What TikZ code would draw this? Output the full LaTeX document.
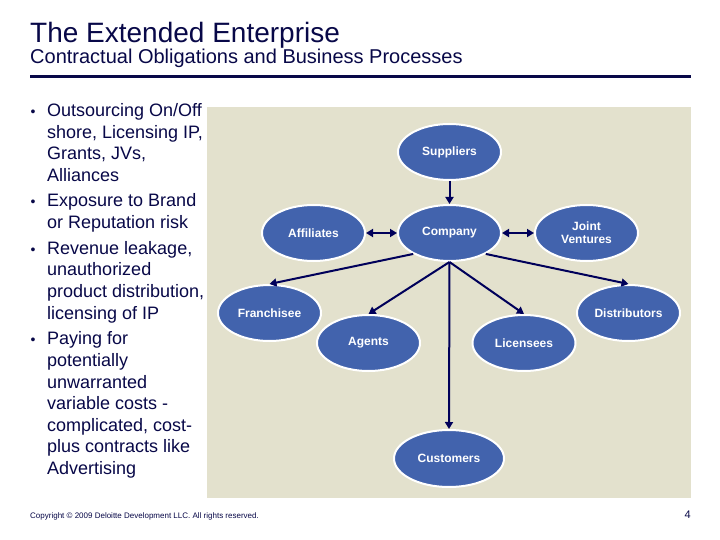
\documentclass[tikz,border=0pt]{standalone}
\usepackage{fontspec}
\setmainfont{Liberation Sans}
\usetikzlibrary{shapes.geometric,arrows.meta}
\definecolor{navy}{RGB}{8,8,72}
\definecolor{panel}{RGB}{227,225,205}
\definecolor{ellblue}{RGB}{66,99,173}
\definecolor{arrowblue}{RGB}{0,0,90}
\tikzset{
  ent/.style={ellipse, fill=ellblue, draw=white, line width=2pt, minimum width=103pt, minimum height=56pt, inner sep=0pt, text=white, font=\fontsize{12}{13}\selectfont\bfseries, align=center},
  conn/.style={draw=arrowblue, line width=2pt, -{Triangle[length=7pt,width=8pt]}},
  bconn/.style={draw=arrowblue, line width=2pt, {Triangle[length=7pt,width=8pt]}-{Triangle[length=7pt,width=8pt]}},
  bodyline/.style={anchor=base west, inner sep=0pt, text=navy, font=\fontsize{18}{21.6}\selectfont},
  bulletmark/.style={anchor=base, inner sep=0pt, text=navy, font=\fontsize{14}{14}\selectfont}
}
\begin{document}
\begin{tikzpicture}[x=1pt,y=-1pt]
\useasboundingbox (0,0) rectangle (720,540);
\fill[white] (0,0) rectangle (720,540);
% title
\node[anchor=base west, inner sep=0pt, text=navy, font=\fontsize{28}{30}\selectfont] (title) at (30,43) {The Extended Enterprise};
\node[anchor=base west, inner sep=0pt, text=navy, font=\fontsize{20}{22}\selectfont] (subtitle) at (30,64) {Contractual Obligations and Business Processes};
\draw[navy, line width=3pt] (30,76.5) -- (691,76.5);
% panel
\fill[panel] (207,107) rectangle (691,498);
% bullets
\node[bulletmark] (bu1) at (33,116.7) {•};
\node[bodyline] (l1) at (47,116.7) {Outsourcing On/Off};
\node[bodyline] (l2) at (47,138.3) {shore, Licensing IP,};
\node[bodyline] (l3) at (47,159.9) {Grants, JVs,};
\node[bodyline] (l4) at (47,181.5) {Alliances};
\node[bulletmark] (bu2) at (33,207) {•};
\node[bodyline] (l5) at (47,207) {Exposure to Brand};
\node[bodyline] (l6) at (47,228.6) {or Reputation risk};
\node[bulletmark] (bu3) at (33,254.2) {•};
\node[bodyline] (l7) at (47,254.2) {Revenue leakage,};
\node[bodyline] (l8) at (47,275.8) {unauthorized};
\node[bodyline] (l9) at (47,297.4) {product distribution,};
\node[bodyline] (l10) at (47,319) {licensing of IP};
\node[bulletmark] (bu4) at (33,344.8) {•};
\node[bodyline] (l11) at (47,344.8) {Paying for};
\node[bodyline] (l12) at (47,366.4) {potentially};
\node[bodyline] (l13) at (47,388) {unwarranted};
\node[bodyline] (l14) at (47,409.6) {variable costs -};
\node[bodyline] (l15) at (47,431.2) {complicated, cost-};
\node[bodyline] (l16) at (47,452.8) {plus contracts like};
\node[bodyline] (l17) at (47,474.4) {Advertising};
% ellipses
\node[ent] (sup) at (449.5,152) {Suppliers};
\node[ent] (com) at (449.5,233) {Company};
\node[ent] (aff) at (313.5,233) {Affiliates};
\node[ent] (jv) at (586.5,233) {Joint\\Ventures};
\node[ent] (fra) at (269.5,313) {Franchisee};
\node[ent] (dis) at (628.5,313) {Distributors};
\node[ent] (age) at (368.5,343) {Agents};
\node[ent] (lic) at (524,343) {Licensees};
\node[ent, minimum width=110pt, minimum height=57pt] (cus) at (449,458.5) {Customers};
% connectors
\draw[conn] (sup.south) -- (com.north);
\draw[bconn] (aff.east) -- (com.west);
\draw[bconn] (com.east) -- (jv.west);
\draw[conn] (com.210) -- (fra.north);
\draw[conn] (com.330) -- (dis.north);
\draw[conn] (com.south) -- (age.north);
\draw[conn] (com.south) -- (lic.north);
\draw[conn] (com.south) -- (cus.north);
% footer
\node[anchor=base west, inner sep=0pt, text=navy, font=\fontsize{8}{9}\selectfont] (copy) at (30,518) {Copyright © 2009 Deloitte Development LLC. All rights reserved.};
\node[anchor=base east, inner sep=0pt, text=navy, font=\fontsize{11}{12}\selectfont] (pg) at (691,518.5) {4};
\end{tikzpicture}
\end{document}
